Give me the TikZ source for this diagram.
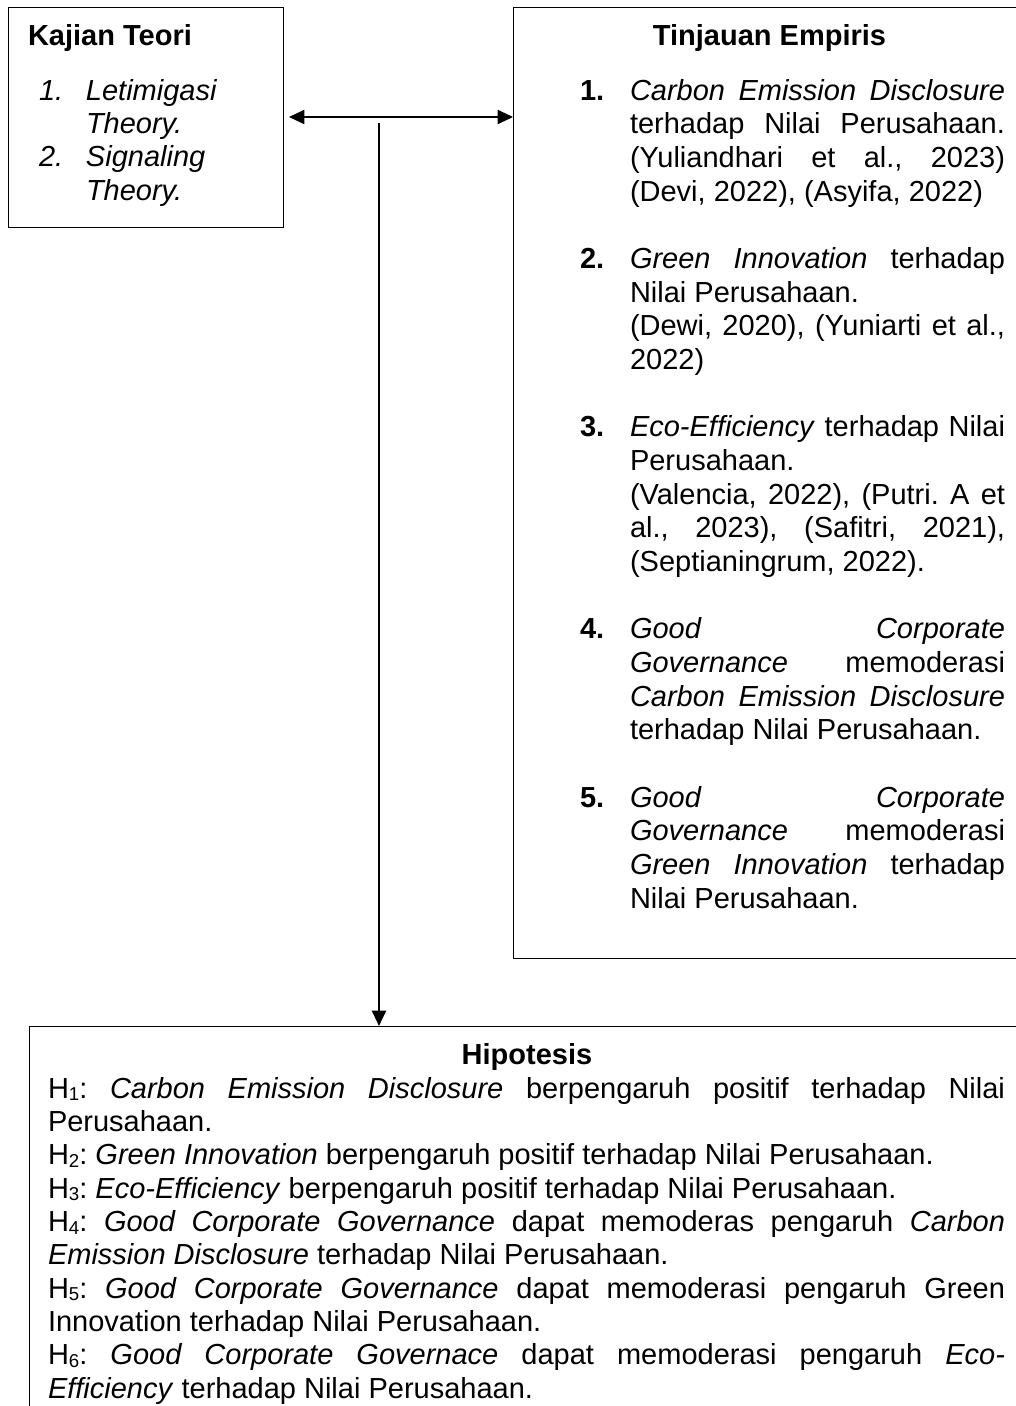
\documentclass[tikz,border=0pt]{standalone}
\usepackage{fontspec}
\setmainfont{Liberation Sans}
\usetikzlibrary{arrows.meta,calc}
\frenchspacing
\newcommand\JL[1]{\hbox to\hsize{#1}}
\newcommand\LL[1]{\hbox to\hsize{#1\hfil}}
\newcommand\NB[1]{\llap{\hbox to 37.5pt{\bfseries #1\hfil}}}
\newcommand\NI[1]{\llap{\hbox to 35.25pt{\itshape #1\hfil}}}
\newcommand\setlines[2]{\hsize=#1\relax\baselineskip=#2\relax\lineskiplimit=-\maxdimen\lineskip=0pt\relax}
\newcommand\blankline{\hbox{}}
\newcommand\Hs[1]{H\raisebox{-2pt}{\fontsize{14}{14}\selectfont #1}}
\begin{document}
\begin{tikzpicture}[x=0.75pt,y=-0.75pt,
  every node/.style={font=\fontsize{21.75}{25}\selectfont, inner sep=0pt, outer sep=0pt},
  box/.style={draw, line width=0.75pt, anchor=north west},
  tip/.tip={Triangle[length=11.5pt,width=10.5pt]},
  conn/.style={line width=1.5pt, -tip},
  txt/.style={anchor=base west},
  head/.style={anchor=base, font=\fontsize{21.75}{25}\selectfont\bfseries}]
\useasboundingbox (0,0) rectangle (1016,1406);
\clip (0,0) rectangle (1016,1406);
% boxes
\node[box, minimum width=206.25pt, minimum height=165pt] (kajian) at (8,7) {};
\node[box, minimum width=390pt, minimum height=713.25pt] (tinjauan) at (513,7) {};
\node[box, minimum width=752pt, minimum height=300pt] (hipotesis) at (29,1026) {};
% left box text
\node[txt, font=\fontsize{21.75}{25}\selectfont\bfseries] (kajianT) at (28,45) {Kajian Teori};
\node[txt] (kajianL) at (86,100) {\vtop{\setlines{140pt}{25pt}%
  \LL{\NI{1.}\itshape Letimigasi}
  \LL{\itshape Theory.}
  \LL{\NI{2.}\itshape Signaling}
  \LL{\itshape Theory.}}};
% right box text
\node[head] (tinjauanT) at (769.5,45) {Tinjauan Empiris};
\node[txt] (tinjauanL) at (630,100) {\vtop{\setlines{281.25pt}{25.25pt}%
  \JL{\NB{1.}\textit{Carbon Emission Disclosure}}
  \JL{terhadap Nilai Perusahaan.}
  \JL{(Yuliandhari et al., 2023)}
  \LL{(Devi, 2022), (Asyifa, 2022)}
  \blankline
  \JL{\NB{2.}\textit{Green Innovation} terhadap}
  \LL{Nilai Perusahaan.}
  \JL{(Dewi, 2020), (Yuniarti et al.,}
  \LL{2022)}
  \blankline
  \JL{\NB{3.}\textit{Eco-Efficiency} terhadap Nilai}
  \LL{Perusahaan.}
  \JL{(Valencia, 2022), (Putri. A et}
  \JL{al., 2023), (Safitri, 2021),}
  \LL{(Septianingrum, 2022).}
  \blankline
  \JL{\NB{4.}\textit{Good Corporate}}
  \JL{\textit{Governance} memoderasi}
  \JL{\textit{Carbon Emission Disclosure}}
  \LL{terhadap Nilai Perusahaan.}
  \blankline
  \JL{\NB{5.}\textit{Good Corporate}}
  \JL{\textit{Governance} memoderasi}
  \JL{\textit{Green Innovation} terhadap}
  \LL{Nilai Perusahaan.}}};
% hipotesis text
\node[head] (hipT) at (527,1064) {Hipotesis};
\node[txt] (hipL) at (48,1098) {\vtop{\setlines{717.75pt}{25pt}%
  \JL{\Hs{1}: \textit{Carbon Emission Disclosure} berpengaruh positif terhadap Nilai}
  \LL{Perusahaan.}
  \LL{\Hs{2}: \textit{Green Innovation} berpengaruh positif terhadap Nilai Perusahaan.}
  \LL{\Hs{3}: \textit{Eco-Efficiency} berpengaruh positif terhadap Nilai Perusahaan.}
  \JL{\Hs{4}: \textit{Good Corporate Governance} dapat memoderas pengaruh \textit{Carbon}}
  \LL{\textit{Emission Disclosure} terhadap Nilai Perusahaan.}
  \JL{\Hs{5}: \textit{Good Corporate Governance} dapat memoderasi pengaruh Green}
  \LL{Innovation terhadap Nilai Perusahaan.}
  \JL{\Hs{6}: \textit{Good Corporate Governace} dapat memoderasi pengaruh \textit{Eco-}}
  \LL{\textit{Efficiency} terhadap Nilai Perusahaan.}}};
% connectors
\draw[conn, tip-tip] ([xshift=4.5pt]kajian.east) -- (kajian.east -| tinjauan.west);
\coordinate (vtop) at (379,123);
\draw[conn] (vtop) -- (vtop |- hipotesis.north);
\end{tikzpicture}
\end{document}
